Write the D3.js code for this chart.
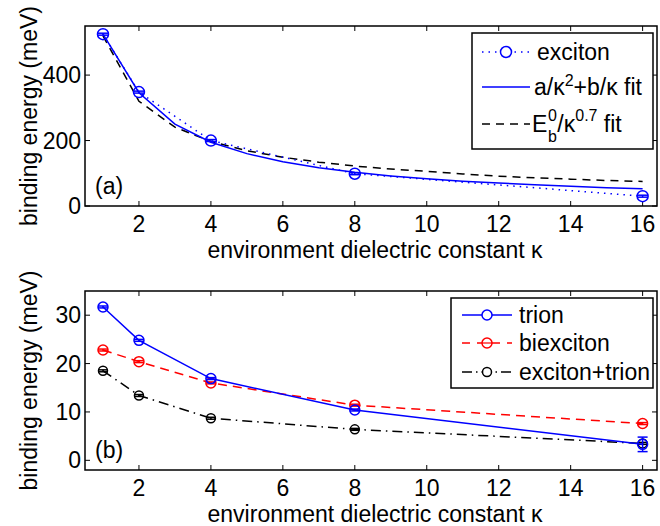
<!DOCTYPE html>
<html><head><meta charset="utf-8">
<script src="https://cdn.jsdelivr.net/npm/d3@7"></script>
<style>body{margin:0;background:#fff}svg{display:block}text{font-family:"Liberation Sans",Arial,sans-serif;}</style>
</head><body>
<script>
// ---- data ----
const kappa = [1, 2, 4, 8, 16];
const exciton = [525, 348, 200, 98.6, 30];
const excitonErr = [3, 3, 3, 3, 3];
const kFit = [1,2,3,4,5,6,7,8,9,10,11,12,13,14,15,16];
const fitQuad = [525, 346, 250, 195, 160, 135, 117, 103, 92, 83, 76, 70, 65, 60, 56, 53];
const fitPow = [520, 320, 241, 197, 169, 149, 134, 122, 113, 106, 98, 91, 86, 82, 78, 75];
const trion = [31.7, 24.8, 16.9, 10.4, 3.3];
const trionErr = [0.2, 0.2, 0.2, 0.2, 1.5];
const biexciton = [22.8, 20.4, 16.0, 11.4, 7.6];
const biexcitonErr = [0.2, 0.2, 0.2, 0.2, 0.2];
const excTrion = [18.5, 13.4, 8.7, 6.4, 3.5];
const excTrionErr = [0.2, 0.2, 0.2, 0.2, 0.2];
const xTicks = [2,4,6,8,10,12,14,16];
const yTicksA = [0, 200, 400];
const yTicksB = [0, 10, 20, 30];

const W = 660, H = 526;
const svg = d3.select("body").append("svg").attr("width", W).attr("height", H);
const FS = 23;
const x = d3.scaleLinear().domain([0.5, 16.4]).range([85, 657]);

function panel(y0, y1, ydom, yticks, label) {
  const y = d3.scaleLinear().domain(ydom).range([y1, y0]);
  const g = svg.append("g");
  xTicks.forEach(t => {
    g.append("line").attr("x1", x(t)).attr("x2", x(t)).attr("y1", y1).attr("y2", y1 - 5).attr("stroke", "#000").attr("stroke-width", 1);
    g.append("line").attr("x1", x(t)).attr("x2", x(t)).attr("y1", y0).attr("y2", y0 + 5).attr("stroke", "#000").attr("stroke-width", 1);
    g.append("text").attr("x", x(t)).attr("y", y1 + 26).attr("text-anchor", "middle").attr("font-size", FS).text(t);
  });
  yticks.forEach(t => {
    g.append("line").attr("x1", 85).attr("x2", 90).attr("y1", y(t)).attr("y2", y(t)).attr("stroke", "#000").attr("stroke-width", 1);
    g.append("line").attr("x1", 657).attr("x2", 652).attr("y1", y(t)).attr("y2", y(t)).attr("stroke", "#000").attr("stroke-width", 1);
    g.append("text").attr("x", 81).attr("y", y(t) + 8).attr("text-anchor", "end").attr("font-size", FS).text(t);
  });
  g.append("rect").attr("x", 85).attr("y", y0).attr("width", 657 - 85).attr("height", y1 - y0)
    .attr("fill", "none").attr("stroke", "#000").attr("stroke-width", 1.5);
  g.append("text").attr("x", (85 + 657) / 2 + 4).attr("y", y1 + 52).attr("text-anchor", "middle").attr("font-size", FS)
    .text("environment dielectric constant \u03BA");
  g.append("text").attr("transform", `translate(37,${(y0 + y1) / 2}) rotate(-90)`).attr("text-anchor", "middle")
    .attr("font-size", FS).text("binding energy (meV)");
  g.append("text").attr("x", 95).attr("y", y1 - 12).attr("font-size", FS).text(label);
  return {g, y};
}

function series(p, xs, ys, errs, color, dash, r) {
  const line = d3.line().x((d, i) => x(xs[i])).y(d => p.y(d));
  p.g.append("path").attr("d", line(ys)).attr("fill", "none").attr("stroke", color)
    .attr("stroke-width", 1.5).attr("stroke-dasharray", dash);
  if (errs) {
    ys.forEach((v, i) => {
      const cx = x(xs[i]);
      const lo = p.y(v - errs[i]), hi = p.y(v + errs[i]);
      p.g.append("line").attr("x1", cx).attr("x2", cx).attr("y1", lo).attr("y2", hi).attr("stroke", color).attr("stroke-width", 1.5);
      [lo, hi].forEach(yy => p.g.append("line").attr("x1", cx - r).attr("x2", cx + r).attr("y1", yy).attr("y2", yy).attr("stroke", color).attr("stroke-width", 1.5));
      p.g.append("circle").attr("cx", cx).attr("cy", p.y(v)).attr("r", r).attr("fill", "none").attr("stroke", color).attr("stroke-width", 1.5);
    });
  }
}

// ---- panel (a) ----
const pa = panel(26, 206, [0, 550], yTicksA, "(a)");
series(pa, kFit, fitPow, null, "#000", "8,6");
series(pa, kFit, fitQuad, null, "#0000ff", null);
series(pa, kappa, exciton, excitonErr, "#0000ff", "1.5,5", 5.5);

// ---- panel (b) ----
const pb = panel(291, 470, [-2, 35], yTicksB, "(b)");
series(pb, kappa, excTrion, excTrionErr, "#000", "10,5,1.5,5", 4.5);
series(pb, kappa, biexciton, biexcitonErr, "#ff0000", "9,6", 5);
series(pb, kappa, trion, trionErr, "#0000ff", null, 5);

// ---- legends ----
function legendBox(x0, y0, x1, y1) {
  svg.append("rect").attr("x", x0).attr("y", y0).attr("width", x1 - x0).attr("height", y1 - y0)
    .attr("fill", "#fff").attr("stroke", "#000").attr("stroke-width", 1.5);
}
function legendSample(xa, xb, yy, color, dash, marker, r, bar) {
  svg.append("line").attr("x1", xa).attr("x2", xb).attr("y1", yy).attr("y2", yy).attr("stroke", color)
    .attr("stroke-width", 1.5).attr("stroke-dasharray", dash);
  if (marker) {
    const cx = (xa + xb) / 2;
    svg.append("circle").attr("cx", cx).attr("cy", yy).attr("r", r).attr("fill", "#fff").attr("stroke", color).attr("stroke-width", 1.5);
    if (bar) svg.append("line").attr("x1", cx - r).attr("x2", cx + r).attr("y1", yy).attr("y2", yy).attr("stroke", color).attr("stroke-width", 1.2);
  }
}
legendBox(472, 33, 653, 149);
legendSample(482, 530, 52, "#0000ff", "1.5,5", true, 5.5, false);
svg.append("text").attr("x", 537).attr("y", 60).attr("font-size", FS).text("exciton");
legendSample(482, 530, 87, "#0000ff", null, false);
const t2 = svg.append("text").attr("x", 534).attr("y", 95).attr("font-size", FS);
t2.append("tspan").text("a/\u03BA");
t2.append("tspan").attr("dy", -9).attr("font-size", 16).text("2");
t2.append("tspan").attr("dy", 9).text("+b/\u03BA fit");
legendSample(482, 530, 124, "#000", "8,6", false);
const t3 = svg.append("text").attr("x", 532).attr("y", 132).attr("font-size", FS);
t3.append("tspan").text("E");
svg.append("text").attr("x", 548).attr("y", 142).attr("font-size", 16).text("b");
svg.append("text").attr("x", 548).attr("y", 121).attr("font-size", 16).text("0");
t3.append("tspan").attr("dx", 10).text("/\u03BA");
t3.append("tspan").attr("dy", -11).attr("font-size", 16).text("0.7");
t3.append("tspan").attr("dy", 11).text(" fit");

legendBox(451, 298, 653, 388);
legendSample(462, 512, 315, "#0000ff", null, true, 5, false);
svg.append("text").attr("x", 519).attr("y", 323).attr("font-size", FS).text("trion");
legendSample(462, 512, 343, "#ff0000", "8,7", true, 5, true);
svg.append("text").attr("x", 519).attr("y", 351).attr("font-size", FS).text("biexciton");
legendSample(462, 512, 372, "#000", "10,4,1.5,4", true, 4.5, false);
svg.append("text").attr("x", 519).attr("y", 380).attr("font-size", FS).text("exciton+trion");
</script>
</body></html>
